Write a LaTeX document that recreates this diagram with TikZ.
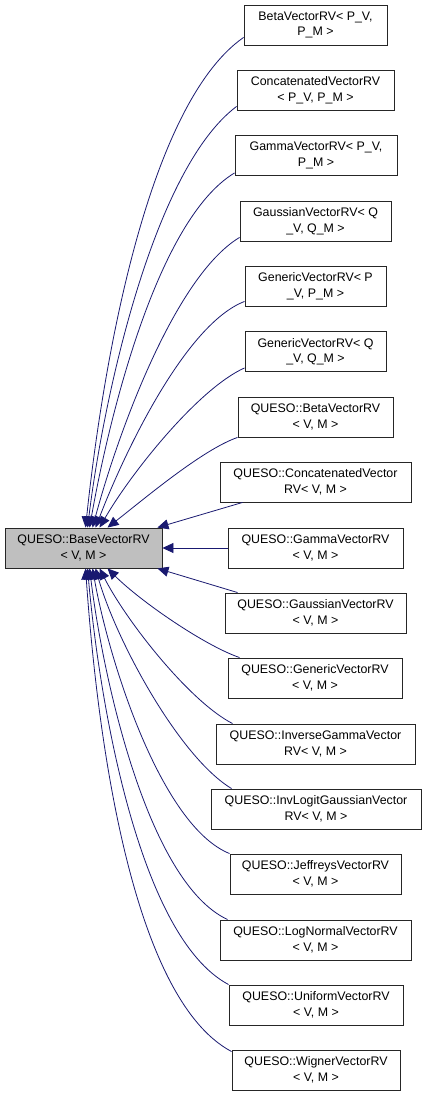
\documentclass[tikz,border=0pt]{standalone}
\usepackage{fontspec}
\setmainfont{Liberation Sans}
\usepackage{tikz}
\usetikzlibrary{arrows.meta}
\definecolor{edgeblue}{HTML}{191970}
\definecolor{basegray}{HTML}{BFBFBF}
\tikzset{
	cls/.style={draw=black!85, line width=0.9pt, fill=white, minimum height=40pt, inner sep=0pt, align=center, font=\fontsize{12.4}{15.5}\selectfont},
	inh/.style={draw=edgeblue, line width=0.8pt, -{Triangle[length=11pt,width=10pt]}, fill=none, out looseness=0.6, in looseness=0.75}
}
\begin{document}
\begin{tikzpicture}[x=1pt,y=1pt]
			%%%%% START %%%%%
			\useasboundingbox (0, 0) rectangle (427, 1096);
			
			\node[cls, fill=basegray, minimum width=157pt] (base) at (83.5, 548) {QUESO::BaseVectorRV\\< V, M >};
			
			\node[cls, minimum width=143pt] (beta) at (315.5, 1071) {BetaVectorRV< P\_V,\\P\_M >};
			\node[cls, minimum width=157pt] (concat) at (315.5, 1006) {ConcatenatedVectorRV\\< P\_V, P\_M >};
			\node[cls, minimum width=162pt] (gamma) at (316, 940.5) {GammaVectorRV< P\_V,\\P\_M >};
			\node[cls, minimum width=151pt] (gaussq) at (315.5, 875) {GaussianVectorRV< Q\\\_V, Q\_M >};
			\node[cls, minimum width=141pt] (genp) at (315.5, 810) {GenericVectorRV< P\\\_V, P\_M >};
			\node[cls, minimum width=141pt] (genq) at (315.5, 744.5) {GenericVectorRV< Q\\\_V, Q\_M >};
			
			\node[cls, minimum width=155pt] (qbeta) at (315.5, 679) {QUESO::BetaVectorRV\\< V, M >};
			\node[cls, minimum width=191pt] (qconcat) at (315.5, 614) {QUESO::ConcatenatedVector\\RV< V, M >};
			\node[cls, minimum width=175pt] (qgamma) at (315.5, 548) {QUESO::GammaVectorRV\\< V, M >};
			\node[cls, minimum width=181pt] (qgauss) at (315.5, 483) {QUESO::GaussianVectorRV\\< V, M >};
			\node[cls, minimum width=174pt] (qgeneric) at (315, 418) {QUESO::GenericVectorRV\\< V, M >};
			\node[cls, minimum width=199pt] (qinvgamma) at (315.5, 352) {QUESO::InverseGammaVector\\RV< V, M >};
			\node[cls, minimum width=210pt] (qinvlogit) at (316, 287) {QUESO::InvLogitGaussianVector\\RV< V, M >};
			\node[cls, minimum width=171pt] (qjeffreys) at (315.5, 222) {QUESO::JeffreysVectorRV\\< V, M >};
			\node[cls, minimum width=191pt] (qlognormal) at (315.5, 156) {QUESO::LogNormalVectorRV\\< V, M >};
			\node[cls, minimum width=174pt] (quniform) at (316, 91) {QUESO::UniformVectorRV\\< V, M >};
			\node[cls, minimum width=168pt] (qwigner) at (316, 26) {QUESO::WignerVectorRV\\< V, M >};
			
			% edges above the base
			\draw[inh] ([yshift=8pt]beta.south west) to[out=215, in=84] ([xshift=81pt]base.north west);
			\draw[inh] ([yshift=4pt]concat.south west) to[out=217, in=83] ([xshift=83pt]base.north west);
			\draw[inh] ([yshift=3pt]gamma.south west) to[out=211, in=80] ([xshift=85pt]base.north west);
			\draw[inh] ([yshift=4pt]gaussq.south west) to[out=211, in=75] ([xshift=88pt]base.north west);
			\draw[inh] ([yshift=5pt]genp.south west) to[out=201, in=69] ([xshift=91pt]base.north west);
			\draw[inh] ([yshift=4pt]genq.south west) to[out=204, in=60] ([xshift=95pt]base.north west);
			\draw[inh] (qbeta.south west) to[out=199, in=38] ([xshift=103pt]base.north west);
			\draw[inh] ([xshift=23pt]qconcat.south west) -- ([xshift=-5pt]base.north east);
			\draw[inh] (qgamma.west) -- (base.east);
			
			% edges below the base
			\draw[inh] ([xshift=13pt]qgauss.north west) -- ([xshift=-5pt]base.south east);
			\draw[inh] ([xshift=12pt]qgeneric.north west) to[out=161, in=-45] ([xshift=103pt]base.south west);
			\draw[inh] ([xshift=17pt]qinvgamma.north west) to[out=153, in=-63] ([xshift=95pt]base.south west);
			\draw[inh] ([xshift=21pt]qinvlogit.north west) to[out=149, in=-74] ([xshift=91pt]base.south west);
			\draw[inh] (qjeffreys.north west) to[out=158, in=-80] ([xshift=88pt]base.south west);
			\draw[inh] ([xshift=8pt]qlognormal.north west) to[out=155, in=-83] ([xshift=85pt]base.south west);
			\draw[inh] (quniform.north west) to[out=152, in=-85] ([xshift=83pt]base.south west);
			\draw[inh] ([yshift=-2pt]qwigner.north west) to[out=152, in=-86] ([xshift=81pt]base.south west);
			
			%%%%% END %%%%%
\end{tikzpicture}
\end{document}
